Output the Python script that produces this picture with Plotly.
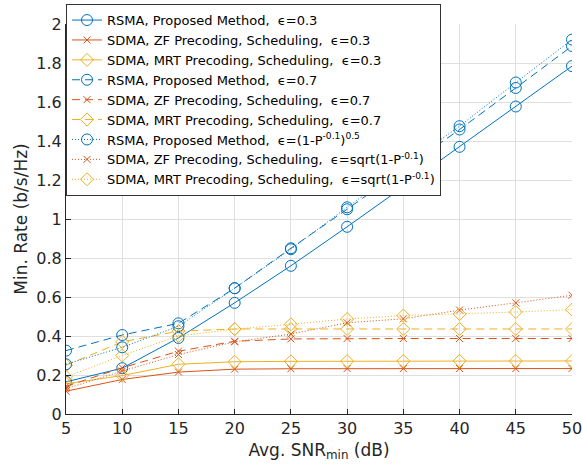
import plotly.graph_objects as go

# Average minimum SNR (dB)
snr = [5, 10, 15, 20, 25, 30, 35, 40, 45, 50]

# Minimum rate (b/s/Hz), epsilon = 0.3
rsma_03 = [0.165, 0.235, 0.39, 0.57, 0.76, 0.96, 1.165, 1.37, 1.577, 1.784]
zf_03 = [0.117, 0.177, 0.215, 0.23, 0.232, 0.233, 0.233, 0.233, 0.233, 0.233]
mrt_03 = [0.155, 0.197, 0.255, 0.268, 0.27, 0.271, 0.271, 0.272, 0.272, 0.272]

# epsilon = 0.7
rsma_07 = [0.325, 0.405, 0.465, 0.645, 0.85, 1.05, 1.255, 1.459, 1.672, 1.887]
zf_07 = [0.142, 0.237, 0.322, 0.373, 0.385, 0.387, 0.387, 0.387, 0.387, 0.387]
mrt_07 = [0.25, 0.37, 0.425, 0.436, 0.436, 0.436, 0.436, 0.436, 0.436, 0.436]

# epsilon = sqrt(1 - P^-0.1)
rsma_var = [0.255, 0.342, 0.45, 0.645, 0.845, 1.06, 1.27, 1.476, 1.70, 1.92]
zf_var = [0.13, 0.22, 0.305, 0.37, 0.41, 0.468, 0.488, 0.533, 0.57, 0.609]
mrt_var = [0.19, 0.30, 0.40, 0.435, 0.46, 0.487, 0.505, 0.513, 0.523, 0.535]

BLUE, RED, YELLOW = "#0072BD", "#D95319", "#EDB120"
SP = "\u00a0\u00a0"
E = "\u03f5"

series = [
    (rsma_03, "RSMA, Proposed Method," + SP + E + "=0.3", BLUE, "circle-open", "solid"),
    (zf_03, "SDMA, ZF Precoding, Scheduling," + SP + E + "=0.3", RED, "x-thin-open", "solid"),
    (mrt_03, "SDMA, MRT Precoding, Scheduling," + SP + E + "=0.3", YELLOW, "diamond-open", "solid"),
    (rsma_07, "RSMA, Proposed Method," + SP + E + "=0.7", BLUE, "circle-open", "8px,5px"),
    (zf_07, "SDMA, ZF Precoding, Scheduling," + SP + E + "=0.7", RED, "x-thin-open", "8px,5px"),
    (mrt_07, "SDMA, MRT Precoding, Scheduling," + SP + E + "=0.7", YELLOW, "diamond-open", "8px,5px"),
    (rsma_var, "RSMA, Proposed Method," + SP + E + "=(1-P<sup>-0.1</sup>)<sup>0.5</sup>", BLUE, "circle-open", "1px,2px"),
    (zf_var, "SDMA, ZF Precoding, Scheduling," + SP + E + "=sqrt(1-P<sup>-0.1</sup>)", RED, "x-thin-open", "1px,2px"),
    (mrt_var, "SDMA, MRT Precoding, Scheduling," + SP + E + "=sqrt(1-P<sup>-0.1</sup>)", YELLOW, "diamond-open", "1px,2px"),
]

marker_size = {"circle-open": 11, "x-thin-open": 7, "diamond-open": 10}

fig = go.Figure()
for y, name, color, symbol, dash in series:
    fig.add_trace(go.Scatter(
        x=snr, y=y, name=name, mode="lines+markers",
        line=dict(color=color, width=1, dash=dash),
        marker=dict(symbol=symbol, size=marker_size[symbol], color=color,
                    line=dict(color=color, width=1)),
    ))

axis_common = dict(
    showline=True, linecolor="#262626", linewidth=1,
    ticks="inside", ticklen=5, tickcolor="#262626",
    showgrid=True, gridcolor="#dfdfdf", gridwidth=1,
    zeroline=False, mirror=False, automargin=False,
    ticklabeloverflow="allow",
    tickfont=dict(family="DejaVu Sans", size=16, color="#262626"),
)

fig.update_layout(
    width=582, height=469,
    margin=dict(l=66, r=10, t=24, b=55, autoexpand=False),
    paper_bgcolor="white", plot_bgcolor="white",
    font=dict(family="DejaVu Sans", color="#262626"),
    xaxis=dict(range=[5, 50], dtick=5, tick0=5,
               title=dict(text="Avg. SNR<sub>min</sub> (dB)",
                          font=dict(size=17, color="#262626"), standoff=6),
               **axis_common),
    yaxis=dict(range=[0, 2], dtick=0.2, tick0=0,
               title=dict(text="Min. Rate (b/s/Hz)",
                          font=dict(size=17, color="#262626"), standoff=4),
               **axis_common),
    legend=dict(x=0.0, y=1.051, xanchor="left", yanchor="top",
                bgcolor="white", bordercolor="#333333", borderwidth=1,
                font=dict(family="DejaVu Sans", size=13, color="black"),
                tracegroupgap=0, itemwidth=30),
    showlegend=True,
)

fig.write_html("out.html")
